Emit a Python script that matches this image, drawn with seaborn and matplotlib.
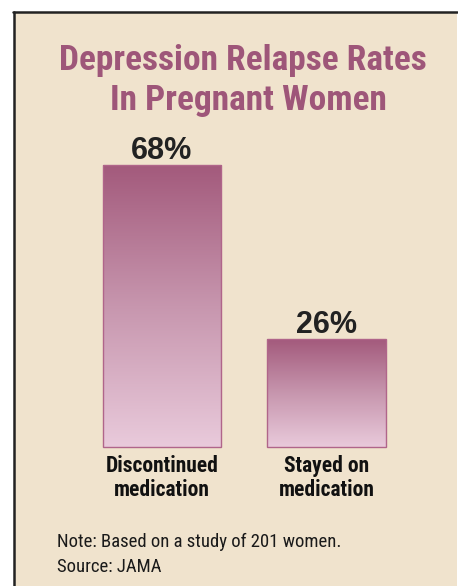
import matplotlib
matplotlib.use("Agg")
import matplotlib.pyplot as plt
import matplotlib.font_manager as fm
import matplotlib.transforms as mtransforms
from matplotlib.colors import LinearSegmentedColormap
import numpy as np
import pandas as pd
import seaborn as sns

categories = ["Discontinued\nmedication", "Stayed on\nmedication"]
values = [68, 26]
title_lines = ["Depression Relapse Rates", "In Pregnant Women"]
note_lines = ["Note: Based on a study of 201 women.", "Source: JAMA"]

sns.set_style("white")
names = {f.name for f in fm.fontManager.ttflist}
narrow = next((n for n in ["Roboto Condensed", "Archivo Narrow", "PT Sans Narrow",
                           "Liberation Sans Narrow", "DejaVu Sans"] if n in names), "DejaVu Sans")
plt.rcParams["font.family"] = ["Liberation Sans", "DejaVu Sans"]

W, H = 458, 586
fig = plt.figure(figsize=(W / 100, H / 100), dpi=100, facecolor="white")

BG = "#f0e3cd"
TITLE = "#9e5679"

def fy(px):
    return 1 - px / H

def fx(px):
    return px / W

fig.patches.append(plt.Rectangle((fx(15), 0), fx(457) - fx(15), fy(13), transform=fig.transFigure,
                                 facecolor=BG, edgecolor="none", zorder=-5))
fig.lines.append(plt.Line2D([fx(14), fx(14)], [0, fy(12)], transform=fig.transFigure, color="#222222", lw=1.8))
fig.lines.append(plt.Line2D([fx(13), fx(457)], [fy(12), fy(12)], transform=fig.transFigure, color="#222222", lw=1.8))

ax = fig.add_axes([0, 0, 1, 1])
ax.patch.set_alpha(0)
df = pd.DataFrame({"cat": categories, "val": values})
sns.barplot(data=df, x="cat", y="val", ax=ax, width=0.72, color="#b06086", edgecolor="#b0658a", linewidth=1.0)

xlim = (-162 / 164.5, (458 - 162) / 164.5)
ylim = (-(139) / 4.147, (586 - 139) / 4.147)

cmap = LinearSegmentedColormap.from_list("g", ["#e9cadb", "#c796ae", "#a35a7c"])
grad = np.linspace(0, 1, 256).reshape(-1, 1)
for p in ax.patches:
    x0, y0, w, h = p.get_x(), p.get_y(), p.get_width(), p.get_height()
    p.set_facecolor("none")
    p.set_zorder(3)
    im = ax.imshow(grad, extent=(x0, x0 + w, y0, y0 + h), origin="lower", cmap=cmap,
                   aspect="auto", zorder=2, interpolation="bicubic")
    im.set_clip_path(p)

for i, v in enumerate(values):
    ax.annotate(f"{v}%", (i, v), xytext=(0, 4.6), textcoords="offset points",
                ha="center", va="baseline", fontsize=22, fontweight="bold", color="#222222")

blend = mtransforms.blended_transform_factory(ax.transData, fig.transFigure)
for i, c in enumerate(categories):
    for j, line in enumerate(c.split("\n")):
        ax.text(i, fy(472 + 24.5 * j), line, transform=blend, ha="center", va="baseline",
                fontsize=15.5, fontweight="bold", family=[narrow, "DejaVu Sans"], color="#111111")

ax.set_xlim(*xlim)
ax.set_ylim(*ylim)
ax.axis("off")

fig.text(fx(242.5), fy(70), title_lines[0], ha="center", va="baseline", fontsize=25.5,
         fontweight="bold", family=[narrow, "DejaVu Sans"], color=TITLE)
fig.text(fx(248), fy(110), title_lines[1], ha="center", va="baseline", fontsize=25.5,
         fontweight="bold", family=[narrow, "DejaVu Sans"], color=TITLE)

for j, line in enumerate(note_lines):
    fig.text(fx(57), fy(547 + 25 * j), line, ha="left", va="baseline", fontsize=13.5,
             family=[narrow, "DejaVu Sans"], color="#1a1a1a")

fig.savefig("out.png", dpi=100, facecolor="white")
